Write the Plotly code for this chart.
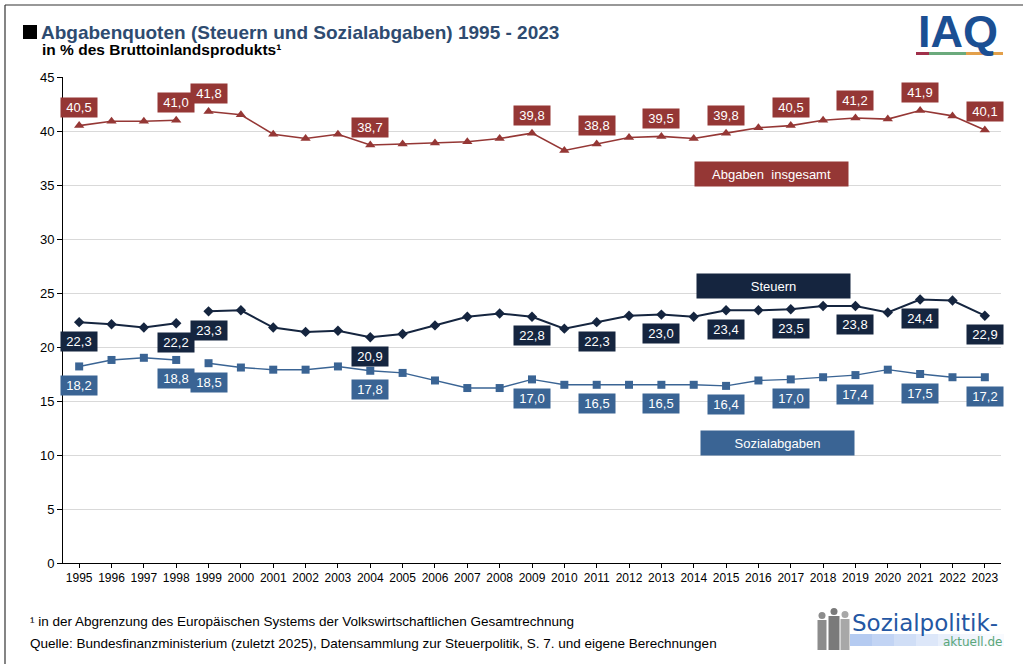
import plotly.graph_objects as go

# ---------------- data ----------------
years = list(range(1995, 2024))
abgaben = [40.5, 40.9, 40.9, 41.0, 41.8, 41.5, 39.7, 39.3, 39.7, 38.7, 38.8, 38.9, 39.0, 39.3, 39.8,
           38.2, 38.8, 39.4, 39.5, 39.3, 39.8, 40.3, 40.5, 41.0, 41.2, 41.1, 41.9, 41.4, 40.1]
steuern = [22.3, 22.1, 21.8, 22.2, 23.3, 23.4, 21.8, 21.4, 21.5, 20.9, 21.2, 22.0, 22.8, 23.1, 22.8,
           21.7, 22.3, 22.9, 23.0, 22.8, 23.4, 23.4, 23.5, 23.8, 23.8, 23.2, 24.4, 24.3, 22.9]
sozial = [18.2, 18.8, 19.0, 18.8, 18.5, 18.1, 17.9, 17.9, 18.2, 17.8, 17.6, 16.9, 16.2, 16.2, 17.0,
          16.5, 16.5, 16.5, 16.5, 16.5, 16.4, 16.9, 17.0, 17.2, 17.4, 17.9, 17.5, 17.2, 17.2]
label_years = [1995, 1998, 1999, 2004, 2009, 2011, 2013, 2015, 2017, 2019, 2021, 2023]
break_after = 1998
series_names = ["Abgaben  insgesamt", "Steuern", "Sozialabgaben"]
y_ticks = [0, 5, 10, 15, 20, 25, 30, 35, 40, 45]

RED = "#953735"
NAVY = "#15253F"
BLUE = "#3A6494"

# plot area in pixels
X0, X1, Y0, Y1 = 63, 1001, 77, 563
W, H = 1023, 664


def px(x):
    return (x - X0) / (X1 - X0)


def py(y):
    return (Y1 - y) / (Y1 - Y0)


fig = go.Figure()

series = [
    (abgaben, RED, "triangle-up", 9, 1.6, 18),
    (steuern, NAVY, "diamond", 8, 2.0, -19),
    (sozial, BLUE, "square", 8, 1.4, -19),
]

for vals, col, sym, msize, lw, shift in series:
    seg1 = [i for i, yr in enumerate(years) if yr <= break_after]
    seg2 = [i for i, yr in enumerate(years) if yr > break_after]
    for seg in (seg1, seg2):
        fig.add_trace(go.Scatter(
            x=[years[i] for i in seg], y=[vals[i] for i in seg],
            mode="lines+markers",
            line=dict(color=col, width=lw),
            marker=dict(symbol=sym, size=msize, color=col),
            showlegend=False, hoverinfo="skip"))
    for yr in label_years:
        v = vals[years.index(yr)]
        fig.add_annotation(
            x=yr, y=v, xref="x", yref="y",
            text=f"{v:.1f}".replace(".", ","),
            showarrow=False, yshift=shift,
            font=dict(family="Liberation Sans, Arial", size=13, color="white"),
            bgcolor=col, borderpad=1, width=34, height=17)

# series name boxes
for name, col, cx, cy in [(series_names[0], RED, 771.5, 174),
                          (series_names[1], NAVY, 773.5, 285.5),
                          (series_names[2], BLUE, 777.5, 443)]:
    fig.add_annotation(
        x=px(cx), y=py(cy), xref="paper", yref="paper",
        xanchor="center", yanchor="middle",
        text=name, showarrow=False,
        font=dict(family="Liberation Sans, Arial", size=13, color="white"),
        bgcolor=col, width=151, height=22, borderpad=1)

shapes = []

# title
shapes.append(dict(type="rect", xref="paper", yref="paper",
                   x0=px(23), x1=px(37), y0=py(39), y1=py(25),
                   fillcolor="#000000", line=dict(width=0)))
fig.add_annotation(
    x=px(39), y=py(32), xref="paper", yref="paper", xanchor="left", yanchor="middle",
    text="<b>Abgabenquoten (Steuern und Sozialabgaben) 1995 - 2023</b>",
    showarrow=False, font=dict(family="Liberation Sans, Arial", size=19, color="#2E4B70"))
fig.add_annotation(
    x=px(40), y=py(49), xref="paper", yref="paper", xanchor="left", yanchor="middle",
    text="<b>in % des Bruttoinlandsprodukts¹</b>",
    showarrow=False, font=dict(family="Liberation Sans, Arial", size=15.5, color="#000000"))

# footnotes
fig.add_annotation(
    x=px(28), y=py(621), xref="paper", yref="paper", xanchor="left", yanchor="middle",
    text="¹ in der Abgrenzung des Europäischen Systems der Volkswirtschaftlichen Gesamtrechnung",
    showarrow=False, font=dict(family="Liberation Sans, Arial", size=13.5, color="#000000"))
fig.add_annotation(
    x=px(28), y=py(643), xref="paper", yref="paper", xanchor="left", yanchor="middle",
    text="Quelle: Bundesfinanzministerium (zuletzt 2025), Datensammlung zur Steuerpolitik, S. 7. und eigene Berechnungen",
    showarrow=False, font=dict(family="Liberation Sans, Arial", size=13.5, color="#000000"))

# IAQ logo
fig.add_annotation(
    x=px(958), y=py(31), xref="paper", yref="paper", xanchor="center", yanchor="middle",
    text="<b>IAQ</b>", showarrow=False,
    font=dict(family="Liberation Sans, Arial", size=45, color="#1B4F93"))
for xa, xb, c in [(916, 929, "#A0304A"), (929, 966, "#6BAA7C"), (966, 1003, "#E3A04A")]:
    shapes.append(dict(type="rect", xref="paper", yref="paper",
                       x0=px(xa), x1=px(xb), y0=py(55), y1=py(52),
                       fillcolor=c, line=dict(width=0)))

# Sozialpolitik-aktuell logo
for i, a in enumerate([0.55, 0.45, 0.35, 0.25, 0.17, 0.1, 0.05]):
    shapes.append(dict(type="rect", xref="paper", yref="paper",
                       x0=px(850 + i * 22), x1=px(872 + i * 22), y0=py(646), y1=py(634),
                       fillcolor=f"rgba(120,160,230,{a})", line=dict(width=0)))
for cx, top, w, g in [(822, 612, 9, "#8C8C8C"), (834, 608, 11, "#7A7A7A"), (845, 611, 9, "#A8A8A8")]:
    shapes.append(dict(type="circle", xref="paper", yref="paper",
                       x0=px(cx - 3.5), x1=px(cx + 3.5), y0=py(top + 7), y1=py(top),
                       fillcolor=g, line=dict(width=0)))
    shapes.append(dict(type="rect", xref="paper", yref="paper",
                       x0=px(cx - w / 2), x1=px(cx + w / 2), y0=py(650), y1=py(top + 8),
                       fillcolor=g, line=dict(width=0)))
fig.add_annotation(
    x=px(850), y=py(623), xref="paper", yref="paper", xanchor="left", yanchor="middle",
    text="Sozialpolitik-", showarrow=False,
    font=dict(family="DejaVu Sans", size=23, color="#2457A3"))
fig.add_annotation(
    x=px(1004), y=py(642), xref="paper", yref="paper", xanchor="right", yanchor="middle",
    text="aktuell.de", showarrow=False,
    font=dict(family="DejaVu Sans", size=12, color="#5BA779"))

# outer frame (top and left edges)
shapes.append(dict(type="line", xref="paper", yref="paper",
                   x0=px(5), x1=px(1023), y0=py(5), y1=py(5), line=dict(color="#333333", width=1.2)))
shapes.append(dict(type="line", xref="paper", yref="paper",
                   x0=px(5), x1=px(5), y0=py(5), y1=py(664), line=dict(color="#333333", width=1.2)))

fig.update_layout(
    width=W, height=H,
    margin=dict(l=X0, r=W - X1, t=Y0, b=H - Y1),
    paper_bgcolor="white", plot_bgcolor="white",
    shapes=shapes,
    font=dict(family="Liberation Sans, Arial", color="#000000"),
    xaxis=dict(range=[1994.5, 2023.5], tickvals=years, ticktext=[str(y) for y in years],
               showline=True, linecolor="#000000", linewidth=1,
               ticks="outside", ticklen=4, tickcolor="#000000",
               showgrid=False, zeroline=False, tickfont=dict(size=12), fixedrange=True),
    yaxis=dict(range=[0, 45], tickvals=y_ticks, showline=True, linecolor="#000000", linewidth=1,
               ticks="outside", ticklen=5, tickcolor="#000000",
               showgrid=True, gridcolor="#D9D9D9", gridwidth=1.3, zeroline=False,
               tickfont=dict(size=13), fixedrange=True),
)

fig.write_html("out.html", config={"displayModeBar": False},
               post_script="document.body.style.margin='0';document.body.style.overflow='hidden';")
